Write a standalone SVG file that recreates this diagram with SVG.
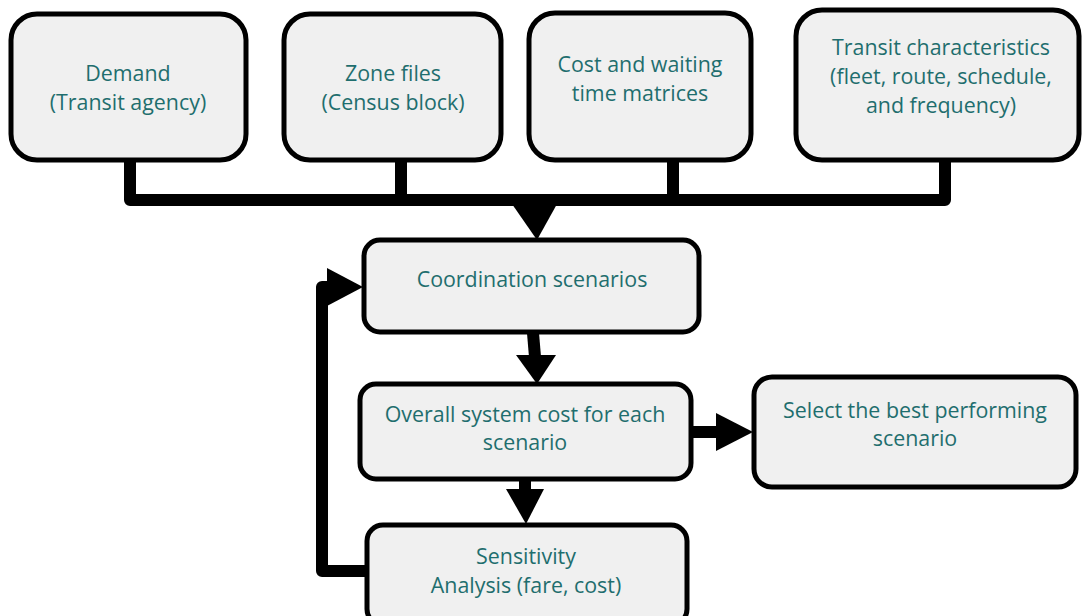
<svg xmlns="http://www.w3.org/2000/svg" width="1082" height="616" viewBox="0 0 1082 616">
<style>
.box{fill:#f0f0f0;stroke:#000;stroke-width:5}
.t{font-family:"Open Sans","Noto Sans",sans-serif;font-size:21.4px;fill:#1f6e6e;text-anchor:middle}
.c{fill:none;stroke:#000;stroke-width:12;stroke-linejoin:round}
.h{fill:#000}
</style>
<rect width="1082" height="616" fill="#fff"/>
<g id="connectors">
<path class="c" d="M130 160 V200 H945 V160"/>
<path class="c" d="M401 160 V200"/>
<path class="c" d="M673 160 V200"/>
<polygon class="h" points="512,204 557,204 537,240"/>
<path class="c" d="M533 333 L535 357"/>
<polygon class="h" points="516,355 556,355 537,384"/>
<path class="c" d="M525 480 V492"/>
<polygon class="h" points="506,489 544,489 526,524"/>
<path class="c" d="M692 432 H718"/>
<polygon class="h" points="716,413 753,432 716,451"/>
<path class="c" d="M366 571 H322 V287 H330"/>
<polygon class="h" points="327,268 363,287 327,306"/>
</g>
<g id="n1"><rect class="box" x="11" y="14" width="235" height="146" rx="26"/>
<text class="t" x="128" y="81">Demand</text><text class="t" x="128" y="110">(Transit agency)</text></g>
<g id="n2"><rect class="box" x="284" y="14" width="217" height="146" rx="26"/>
<text class="t" x="393" y="81">Zone files</text><text class="t" x="393" y="110">(Census block)</text></g>
<g id="n3"><rect class="box" x="529" y="13" width="222" height="147" rx="26"/>
<text class="t" x="640" y="72">Cost and waiting</text><text class="t" x="640" y="101">time matrices</text></g>
<g id="n4"><rect class="box" x="796" y="10" width="283" height="150" rx="26"/>
<text class="t" x="941" y="55">Transit characteristics</text><text class="t" x="941" y="84">(fleet, route, schedule,</text><text class="t" x="941" y="113">and frequency)</text></g>
<g id="n5"><rect class="box" x="364" y="240" width="335" height="92" rx="16"/>
<text class="t" x="532" y="287">Coordination scenarios</text></g>
<g id="n6"><rect class="box" x="360" y="384" width="331" height="95" rx="16"/>
<text class="t" x="525" y="422">Overall system cost for each</text><text class="t" x="525" y="450">scenario</text></g>
<g id="n7"><rect class="box" x="754" y="377" width="322" height="110" rx="18"/>
<text class="t" x="915" y="418">Select the best performing</text><text class="t" x="915" y="446">scenario</text></g>
<g id="n8"><rect class="box" x="367" y="525" width="320" height="100" rx="16"/>
<text class="t" x="526" y="564">Sensitivity</text><text class="t" x="526" y="593">Analysis (fare, cost)</text></g>
</svg>
